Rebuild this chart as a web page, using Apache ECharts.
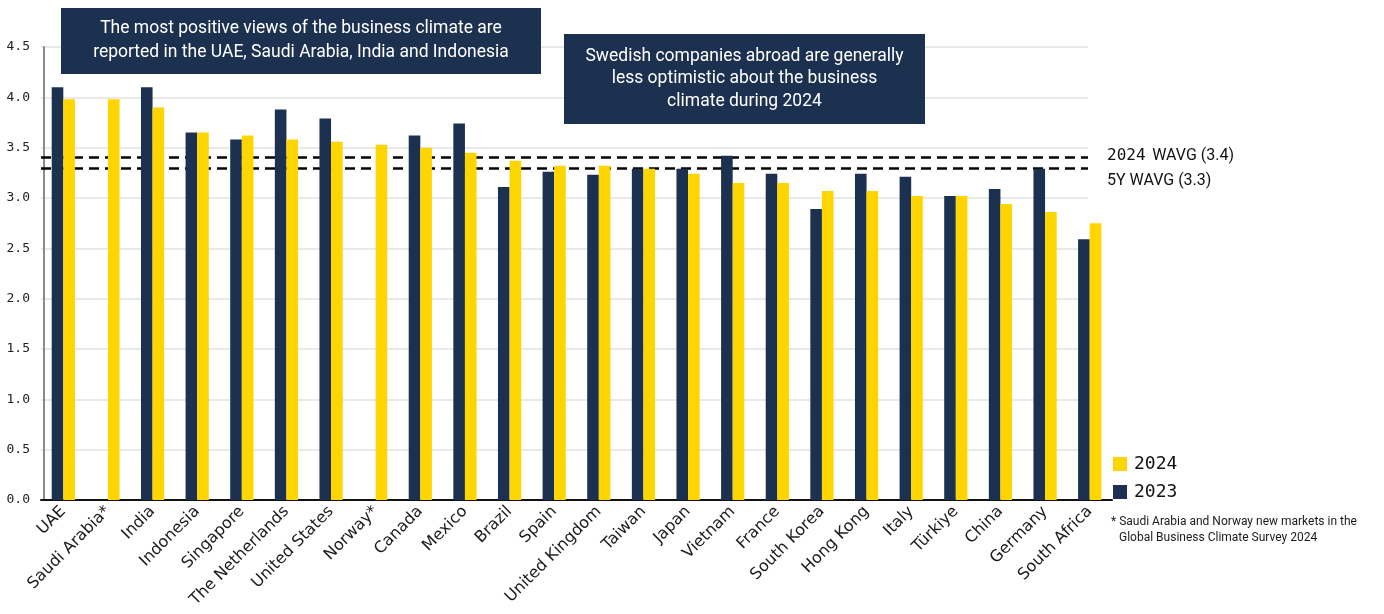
<!DOCTYPE html>
<html>
<head>
<meta charset="utf-8">
<script src="https://cdn.jsdelivr.net/npm/echarts@6/dist/echarts.min.js"></script>
<style>
  html, body { margin: 0; padding: 0; background: #ffffff; }
  #chart { width: 1384px; height: 614px; }
</style>
</head>
<body>
<div id="chart"></div>
<script>
// Business climate index per market, 2023 vs 2024
const countries = ['UAE', 'Saudi Arabia*', 'India', 'Indonesia', 'Singapore', 'The Netherlands',
  'United States', 'Norway*', 'Canada', 'Mexico', 'Brazil', 'Spain', 'United Kingdom', 'Taiwan',
  'Japan', 'Vietnam', 'France', 'South Korea', 'Hong Kong', 'Italy', 'Türkiye', 'China',
  'Germany', 'South Africa'];
const values2023 = [4.10, null, 4.10, 3.65, 3.58, 3.88, 3.79, null, 3.62, 3.74, 3.11, 3.26, 3.23,
  3.29, 3.29, 3.42, 3.24, 2.89, 3.24, 3.21, 3.02, 3.09, 3.29, 2.59];
const values2024 = [3.98, 3.98, 3.90, 3.65, 3.62, 3.58, 3.56, 3.53, 3.50, 3.45, 3.37, 3.32, 3.32,
  3.29, 3.24, 3.15, 3.15, 3.07, 3.07, 3.02, 3.02, 2.94, 2.86, 2.75];
const yTicks = [0, 0.5, 1, 1.5, 2, 2.5, 3, 3.5, 4, 4.5];
const wavg2024 = 3.4;
const wavg5y = 3.3;
const seriesNames = ['2024', '2023'];
const notes = ['* Saudi Arabia and Norway new markets in the', 'Global Business Climate Survey 2024'];
const callouts = [
  'The most positive views of the business climate are\nreported in the UAE, Saudi Arabia, India and Indonesia',
  'Swedish companies abroad are generally\nless optimistic about the business\nclimate during 2024'
];

const NAVY = '#1c3050';
const YELLOW = '#ffd500';
const MONO = '"DejaVu Sans Mono", monospace';
const SANS = 'Roboto, "Noto Sans", sans-serif';

const chart = echarts.init(document.getElementById('chart'), null, { renderer: 'canvas' });

const option = {
  animation: false,
  backgroundColor: '#ffffff',
  grid: { left: 41, right: 272, top: 47, bottom: 114, containLabel: false },
  legend: {
    data: seriesNames,
    orient: 'vertical',
    left: 1113,
    top: 455,
    padding: 0,
    itemWidth: 14,
    itemHeight: 14,
    itemGap: 10,
    icon: 'rect',
    textStyle: { fontFamily: MONO, fontSize: 18, color: '#111', padding: [0, 0, 0, 2] }
  },
  xAxis: {
    type: 'category',
    data: countries,
    axisLine: { lineStyle: { color: '#111', width: 2 } },
    axisTick: { show: false },
    axisLabel: {
      interval: 0,
      rotate: 45,
      margin: 9,
      fontFamily: '"DejaVu Sans", sans-serif',
      fontSize: 16,
      color: '#1a1a1a'
    }
  },
  yAxis: {
    type: 'value',
    min: yTicks[0],
    max: yTicks[yTicks.length - 1],
    interval: yTicks[1] - yTicks[0],
    offset: -3,
    axisLine: { show: true, lineStyle: { color: '#8a8a8a', width: 2 } },
    axisTick: { show: false },
    splitLine: { lineStyle: { color: '#e9e9e9', width: 2 } },
    axisLabel: {
      margin: 14,
      fontFamily: MONO,
      fontSize: 13,
      color: '#222',
      formatter: v => v.toFixed(1)
    }
  },
  series: [
    {
      name: '2023',
      type: 'bar',
      data: values2023,
      barWidth: 11.6,
      barGap: '0%',
      itemStyle: { color: NAVY },
      z: 3,
      markLine: {
        z: 1,
        silent: true,
        symbol: 'none',
        label: { show: false },
        lineStyle: { color: '#000', type: [10, 6], width: 2.5 },
        data: [{ yAxis: wavg2024 }, { yAxis: wavg5y }]
      }
    },
    {
      name: '2024',
      type: 'bar',
      data: values2024,
      barWidth: 11.6,
      barGap: '0%',
      itemStyle: { color: YELLOW },
      z: 3
    }
  ]
};
chart.setOption(option);

// Callout boxes, reference-line captions and footnote
const yTop = chart.convertToPixel({ yAxisIndex: 0 }, wavg2024);
const yLow = chart.convertToPixel({ yAxisIndex: 0 }, wavg5y);
const gridRect = chart.getModel().getComponent('grid', 0).coordinateSystem.getRect();
const lineEnd = 1088; // guide lines and gridlines stop short of the last bar pair

function callout(x, y, w, h, text, lh) {
  return {
    type: 'group',
    x: x, y: y,
    z: 10,
    children: [
      { type: 'rect', shape: { x: 0, y: 0, width: w, height: h }, style: { fill: NAVY } },
      {
        type: 'text', x: w / 2, y: h / 2,
        style: {
          text: text, fill: '#ffffff', font: '17.5px ' + SANS,
          align: 'center', verticalAlign: 'middle', lineHeight: lh
        }
      }
    ]
  };
}

chart.setOption({
  graphic: [
    // white band trimming gridlines and guide lines on the right (drawn beneath the bars)
    {
      type: 'rect', z: 2,
      shape: {
        x: lineEnd, y: gridRect.y - 3,
        width: gridRect.x + gridRect.width - lineEnd + 2, height: gridRect.height + 1
      },
      style: { fill: '#ffffff' }
    },
    callout(61, 8, 480, 66, callouts[0], 24),
    callout(564, 34, 361, 90, callouts[1], 22.5),
    {
      type: 'text', x: 1107, y: yTop - 2, z: 10,
      style: {
        rich: {
          m: { fontFamily: MONO, fontSize: 16, fill: '#111' },
          s: { fontFamily: SANS, fontSize: 16, fill: '#111' }
        },
        text: '{m|2024}  {s|WAVG (' + wavg2024.toFixed(1) + ')}',
        verticalAlign: 'middle'
      }
    },
    {
      type: 'text', x: 1107, y: yLow + 13, z: 10,
      style: {
        text: '5Y WAVG (' + wavg5y.toFixed(1) + ')',
        font: '16px ' + SANS, fill: '#111', verticalAlign: 'middle'
      }
    },
    {
      type: 'text', x: 1111, y: 522, z: 10,
      style: { text: notes[0], font: '12px ' + SANS, fill: '#1a1a1a', verticalAlign: 'middle' }
    },
    {
      type: 'text', x: 1119, y: 538, z: 10,
      style: { text: notes[1], font: '12px ' + SANS, fill: '#1a1a1a', verticalAlign: 'middle' }
    }
  ]
});
</script>
</body>
</html>
